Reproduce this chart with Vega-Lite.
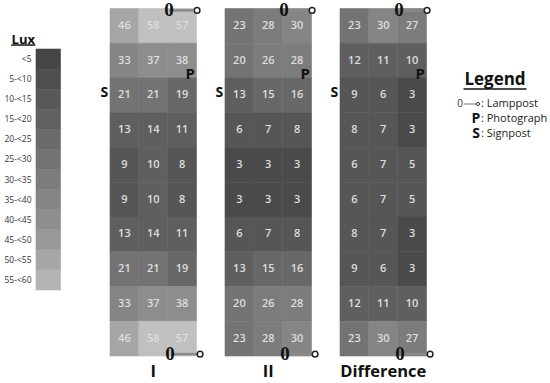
{
"$schema":"https://vega.github.io/schema/vega-lite/v6.json",
"autosize":{"type":"pad"},
"padding":{"left":3,"top":0.5,"right":0,"bottom":0},
"background":"white",
"config":{"view":{"stroke":null},"text":{"font":"Open Sans"}},
"spacing":19,
"resolve":{"scale":{"color":"independent","stroke":"independent"}},
"datasets":{
"cells":[
{"panel":"I","row":1,"col":1,"lux":46},{"panel":"I","row":1,"col":2,"lux":58},{"panel":"I","row":1,"col":3,"lux":57},
{"panel":"I","row":2,"col":1,"lux":33},{"panel":"I","row":2,"col":2,"lux":37},{"panel":"I","row":2,"col":3,"lux":38},
{"panel":"I","row":3,"col":1,"lux":21},{"panel":"I","row":3,"col":2,"lux":21},{"panel":"I","row":3,"col":3,"lux":19},
{"panel":"I","row":4,"col":1,"lux":13},{"panel":"I","row":4,"col":2,"lux":14},{"panel":"I","row":4,"col":3,"lux":11},
{"panel":"I","row":5,"col":1,"lux":9},{"panel":"I","row":5,"col":2,"lux":10},{"panel":"I","row":5,"col":3,"lux":8},
{"panel":"I","row":6,"col":1,"lux":9},{"panel":"I","row":6,"col":2,"lux":10},{"panel":"I","row":6,"col":3,"lux":8},
{"panel":"I","row":7,"col":1,"lux":13},{"panel":"I","row":7,"col":2,"lux":14},{"panel":"I","row":7,"col":3,"lux":11},
{"panel":"I","row":8,"col":1,"lux":21},{"panel":"I","row":8,"col":2,"lux":21},{"panel":"I","row":8,"col":3,"lux":19},
{"panel":"I","row":9,"col":1,"lux":33},{"panel":"I","row":9,"col":2,"lux":37},{"panel":"I","row":9,"col":3,"lux":38},
{"panel":"I","row":10,"col":1,"lux":46},{"panel":"I","row":10,"col":2,"lux":58},{"panel":"I","row":10,"col":3,"lux":57},
{"panel":"II","row":1,"col":1,"lux":23},{"panel":"II","row":1,"col":2,"lux":28},{"panel":"II","row":1,"col":3,"lux":30},
{"panel":"II","row":2,"col":1,"lux":20},{"panel":"II","row":2,"col":2,"lux":26},{"panel":"II","row":2,"col":3,"lux":28},
{"panel":"II","row":3,"col":1,"lux":13},{"panel":"II","row":3,"col":2,"lux":15},{"panel":"II","row":3,"col":3,"lux":16},
{"panel":"II","row":4,"col":1,"lux":6},{"panel":"II","row":4,"col":2,"lux":7},{"panel":"II","row":4,"col":3,"lux":8},
{"panel":"II","row":5,"col":1,"lux":3},{"panel":"II","row":5,"col":2,"lux":3},{"panel":"II","row":5,"col":3,"lux":3},
{"panel":"II","row":6,"col":1,"lux":3},{"panel":"II","row":6,"col":2,"lux":3},{"panel":"II","row":6,"col":3,"lux":3},
{"panel":"II","row":7,"col":1,"lux":6},{"panel":"II","row":7,"col":2,"lux":7},{"panel":"II","row":7,"col":3,"lux":8},
{"panel":"II","row":8,"col":1,"lux":13},{"panel":"II","row":8,"col":2,"lux":15},{"panel":"II","row":8,"col":3,"lux":16},
{"panel":"II","row":9,"col":1,"lux":20},{"panel":"II","row":9,"col":2,"lux":26},{"panel":"II","row":9,"col":3,"lux":28},
{"panel":"II","row":10,"col":1,"lux":23},{"panel":"II","row":10,"col":2,"lux":28},{"panel":"II","row":10,"col":3,"lux":30},
{"panel":"Difference","row":1,"col":1,"lux":23},{"panel":"Difference","row":1,"col":2,"lux":30},{"panel":"Difference","row":1,"col":3,"lux":27},
{"panel":"Difference","row":2,"col":1,"lux":12},{"panel":"Difference","row":2,"col":2,"lux":11},{"panel":"Difference","row":2,"col":3,"lux":10},
{"panel":"Difference","row":3,"col":1,"lux":9},{"panel":"Difference","row":3,"col":2,"lux":6},{"panel":"Difference","row":3,"col":3,"lux":3},
{"panel":"Difference","row":4,"col":1,"lux":8},{"panel":"Difference","row":4,"col":2,"lux":7},{"panel":"Difference","row":4,"col":3,"lux":3},
{"panel":"Difference","row":5,"col":1,"lux":6},{"panel":"Difference","row":5,"col":2,"lux":7},{"panel":"Difference","row":5,"col":3,"lux":5},
{"panel":"Difference","row":6,"col":1,"lux":6},{"panel":"Difference","row":6,"col":2,"lux":7},{"panel":"Difference","row":6,"col":3,"lux":5},
{"panel":"Difference","row":7,"col":1,"lux":8},{"panel":"Difference","row":7,"col":2,"lux":7},{"panel":"Difference","row":7,"col":3,"lux":3},
{"panel":"Difference","row":8,"col":1,"lux":9},{"panel":"Difference","row":8,"col":2,"lux":6},{"panel":"Difference","row":8,"col":3,"lux":3},
{"panel":"Difference","row":9,"col":1,"lux":12},{"panel":"Difference","row":9,"col":2,"lux":11},{"panel":"Difference","row":9,"col":3,"lux":10},
{"panel":"Difference","row":10,"col":1,"lux":23},{"panel":"Difference","row":10,"col":2,"lux":30},{"panel":"Difference","row":10,"col":3,"lux":27}
],
"bins":[
{"label":"<5","lux":2.5},{"label":"5-<10","lux":7.5},{"label":"10-<15","lux":12.5},{"label":"15-<20","lux":17.5},
{"label":"20-<25","lux":22.5},{"label":"25-<30","lux":27.5},{"label":"30-<35","lux":32.5},{"label":"35-<40","lux":37.5},
{"label":"40-<45","lux":42.5},{"label":"45-<50","lux":47.5},{"label":"50-<55","lux":52.5},{"label":"55-<60","lux":57.5}
],
"key":[
{"item":"Lamppost","glyph":"0","text":": Lamppost"},
{"item":"Photograph","glyph":"P","text":": Photograph"},
{"item":"Signpost","glyph":"S","text":": Signpost"}
]
},
"hconcat":[
{
"data":{"name":"bins"},
"width":45,"height":347.5,
"encoding":{"y":{"field":"label","type":"nominal","sort":null,"title":null,
 "scale":{"range":[40.5,281.5],"paddingInner":0,"paddingOuter":0},
 "axis":{"ticks":false,"domain":false,"labelFont":"Open Sans","labelFontSize":8.5,"labelColor":"#333333","labelPadding":5,"grid":false}}},
"layer":[
{"mark":{"type":"rect","strokeWidth":0.6},
 "encoding":{"x":{"datum":"bar","type":"nominal","axis":null,"scale":{"range":[0,24.5],"paddingInner":0,"paddingOuter":0}},
 "color":{"field":"lux","type":"quantitative","legend":null,"scale":{"type":"threshold","domain":[5,10,15,20,25,30,35,40,45,50,55],"range":["#454545","#4e4e4e","#585858","#616161","#6a6a6a","#737373","#7c7c7c","#858585","#8e8e8e","#989898","#a6a6a6","#b4b4b4"]}},
 "stroke":{"field":"lux","type":"quantitative","legend":null,"scale":{"type":"threshold","domain":[5,10,15,20,25,30,35,40,45,50,55],"range":["#454545","#4e4e4e","#585858","#616161","#6a6a6a","#737373","#7c7c7c","#858585","#8e8e8e","#989898","#a6a6a6","#b4b4b4"]}}}},
{"transform":[{"filter":"datum.lux==2.5"}],
 "mark":{"type":"text","text":"Lux","fontWeight":"bold","fontSize":13,"dx":-25,"dy":-19,"font":"Open Sans","color":"#111111"},
 "encoding":{"x":{"datum":"bar","type":"nominal"}}},
{"transform":[{"filter":"datum.lux==2.5"}],
 "mark":{"type":"rect","width":24,"height":1.5,"xOffset":-25,"yOffset":-14,"color":"#111111"},
 "encoding":{"x":{"datum":"bar","type":"nominal"}}}
]
},
{
"data":{"name":"cells"},
"bounds":"flush",
"spacing":28,
"facet":{"column":{"field":"panel","type":"nominal","sort":["I","II","Difference"],"title":null,
 "header":{"labelOrient":"bottom","labelFontSize":16.5,"labelFontWeight":"bold","labelFont":"Open Sans","labelColor":"#111111","labelPadding":7}}},
"spec":{
"width":86.5,"height":347.5,
"encoding":{
 "x":{"field":"col","type":"ordinal","axis":null,"scale":{"paddingInner":0,"paddingOuter":0}},
 "y":{"field":"row","type":"ordinal","axis":null,"scale":{"paddingInner":0,"paddingOuter":0}}
},
"layer":[
{"mark":{"type":"rect","strokeWidth":0.6},
 "encoding":{"color":{"field":"lux","type":"quantitative","legend":null,"scale":{"type":"threshold","domain":[5,10,15,20,25,30,35,40,45,50,55],"range":["#4a4a4a","#565656","#5f5f5f","#686868","#737373","#7c7c7c","#858585","#8d8d8d","#959595","#a6a6a6","#b2b2b2","#c0c0c0"]}},
 "stroke":{"field":"lux","type":"quantitative","legend":null,"scale":{"type":"threshold","domain":[5,10,15,20,25,30,35,40,45,50,55],"range":["#4a4a4a","#565656","#5f5f5f","#686868","#737373","#7c7c7c","#858585","#8d8d8d","#959595","#a6a6a6","#b2b2b2","#c0c0c0"]}}}},
{"mark":{"type":"text","fontSize":11,"fontWeight":600,"color":"#dedede"},
 "encoding":{"text":{"field":"lux","type":"quantitative"}}},
{"transform":[{"filter":"datum.col==1&&datum.row==3"}],
 "mark":{"type":"text","text":"S","fontWeight":"bold","fontSize":14,"dx":-20,"dy":-2,"color":"#111111"}},
{"transform":[{"filter":"datum.col==3&&datum.row==3"}],
 "mark":{"type":"text","text":"P","fontWeight":"bold","fontSize":15,"dx":8,"dy":-21,"color":"#111111"}},
{"transform":[{"filter":"datum.col==3&&datum.row==1"}],
 "mark":{"type":"rect","width":24,"height":2.5,"xOffset":-1,"yOffset":-15.5,"color":"#8a8a8a"}},
{"transform":[{"filter":"datum.col==3&&datum.row==1"}],
 "mark":{"type":"text","text":"0","font":"Liberation Sans Narrow","fontWeight":"bold","fontSize":19,"dx":-13,"dy":-16,"color":"#111111"}},
{"transform":[{"filter":"datum.col==3&&datum.row==1"}],
 "mark":{"type":"point","filled":true,"fill":"white","stroke":"#222222","strokeWidth":1.5,"size":32,"xOffset":15,"yOffset":-15.5,"opacity":1}},
{"transform":[{"filter":"datum.col==3&&datum.row==10"}],
 "mark":{"type":"rect","width":24,"height":2.5,"xOffset":3,"yOffset":15.5,"color":"#8a8a8a"}},
{"transform":[{"filter":"datum.col==3&&datum.row==10"}],
 "mark":{"type":"text","text":"0","font":"Liberation Sans Narrow","fontWeight":"bold","fontSize":19,"dx":-12,"dy":15,"color":"#111111"}},
{"transform":[{"filter":"datum.col==3&&datum.row==10"}],
 "mark":{"type":"point","filled":true,"fill":"white","stroke":"#222222","strokeWidth":1.5,"size":32,"xOffset":18,"yOffset":15.5,"opacity":1}}
]
}
},
{
"data":{"name":"key"},
"width":97,"height":347.5,
"encoding":{
 "y":{"field":"item","type":"nominal","sort":null,"axis":null,"scale":{"type":"point","padding":0,"range":[95.5,125.5]}}
},
"layer":[
{"mark":{"type":"text","align":"left","fontSize":11,"fontWeight":500,"color":"#222222"},
 "encoding":{"text":{"field":"text"},
 "x":{"datum":"label","type":"nominal","axis":null,"scale":{"type":"point","padding":0,"domain":["glyph","label"],"range":[21,26]}}}},
{"transform":[{"filter":"datum.item!='Lamppost'"}],
 "mark":{"type":"text","fontWeight":"bold","fontSize":14,"color":"#111111"},
 "encoding":{"text":{"field":"glyph"},"x":{"datum":"glyph","type":"nominal"}}},
{"transform":[{"filter":"datum.item=='Lamppost'"}],
 "mark":{"type":"text","fontSize":10,"dx":-16,"color":"#333333"},
 "encoding":{"text":{"field":"glyph"},"x":{"datum":"glyph","type":"nominal"}}},
{"transform":[{"filter":"datum.item=='Lamppost'"}],
 "mark":{"type":"rect","width":12,"height":2,"xOffset":-6,"color":"#bbbbbb"},
 "encoding":{"x":{"datum":"glyph","type":"nominal"}}},
{"transform":[{"filter":"datum.item=='Lamppost'"}],
 "mark":{"type":"point","filled":true,"fill":"white","stroke":"#333333","strokeWidth":1,"size":10,"xOffset":2,"opacity":1},
 "encoding":{"x":{"datum":"glyph","type":"nominal"}}},
{"transform":[{"filter":"datum.item=='Lamppost'"}],
 "mark":{"type":"text","text":"Legend","fontWeight":"bold","fontSize":17,"dx":14,"dy":-24,"color":"#111111","align":"center"},
 "encoding":{"x":{"datum":"label","type":"nominal"}}},
{"transform":[{"filter":"datum.item=='Lamppost'"}],
 "mark":{"type":"rect","width":63,"height":1.5,"xOffset":14,"yOffset":-15,"color":"#111111"},
 "encoding":{"x":{"datum":"label","type":"nominal"}}}
]
}
]
}
